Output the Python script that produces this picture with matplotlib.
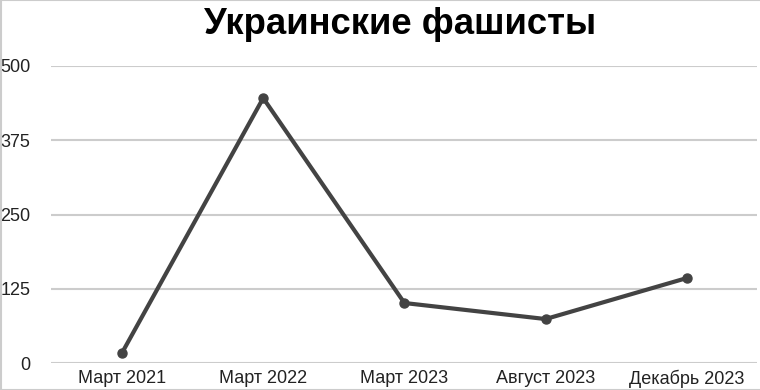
import matplotlib.pyplot as plt
from matplotlib.lines import Line2D

plt.rcParams['font.family'] = ['Liberation Sans', 'DejaVu Sans']

# data
categories = ["Март 2021", "Март 2022", "Март 2023", "Август 2023", "Декабрь 2023"]
values = [17, 446, 101, 74, 143]
yticks = [0, 125, 250, 375, 500]
title = "Украинские фашисты"

fig = plt.figure(figsize=(7.6, 3.9), dpi=100)
ax = fig.add_axes([51.4 / 760, 27 / 390, 706 / 760, 297 / 390])

x = list(range(len(categories)))
ax.plot(x, values, color="#434343", lw=3, marker="o", ms=6.5,
        solid_capstyle="round", solid_joinstyle="round", zorder=3)

ax.set_xlim(-0.5, len(categories) - 0.5)
ax.set_ylim(0, 500)
ax.set_yticks(yticks)
ax.set_yticklabels([str(t) for t in yticks])
ax.set_xticks(x)
ax.set_xticklabels(categories)
ax.grid(axis="y", color="#cccccc", lw=1.5)
ax.set_axisbelow(True)
for s in ax.spines.values():
    s.set_visible(False)
ax.tick_params(length=0, labelsize=13, colors="#222222")
ax.tick_params(axis="y", pad=15)
ax.tick_params(axis="x", pad=5)

fig.text(0.527, 1 - 25 / 390, title, ha="center", va="center",
         fontsize=26.3, fontweight="bold", color="black")

# thin frame on top, left and bottom
for xs, ys in [([0, 1], [0.999, 0.999]), ([0.0007, 0.0007], [0, 1]), ([0, 1], [0.001, 0.001])]:
    fig.add_artist(Line2D(xs, ys, transform=fig.transFigure, color="#cccccc", lw=1.5))

fig.savefig("out.png", dpi=100)
